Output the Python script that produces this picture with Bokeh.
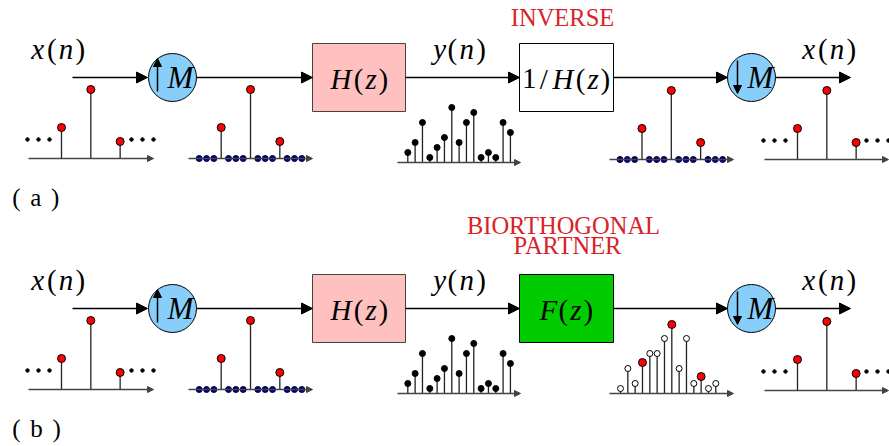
from bokeh.plotting import figure
from bokeh.models import Range1d, Arrow, NormalHead
from bokeh.core.properties import value
from bokeh.embed import file_html
from bokeh.resources import INLINE

# ---------------- data ----------------
x_seq = [31, 69, 17]                    # nonzero samples of x(n)
M_FACTOR = 4                            # up/down-sampling factor
UP_LEN = 15                             # samples shown after upsampling
y_seq = [10, 20, 40, 5, 15, 25, 55, 20, 40, 50, 5, 10, 5, 40, 30]   # y(n)
f_seq = [5, 25, 10, 31, 40, 40, 55, 69, 25, 55, 10, 17, 5, 10]     # F(z) output
f_kept = [3, 7, 11]                     # samples kept by the decimator
panel_labels = ["a", "b"]
row_titles = [["INVERSE"], ["BIORTHOGONAL", "PARTNER"]]
box1_label = "H(z)"
box2_labels = ["1/H(z)", "F(z)"]
box2_fill = ["white", "#00cc00"]
in_label, mid_label = "x(n)", "y(n)"

# ---------------- layout ----------------
W, H = 889, 446
ROW_Y = 77
ROW_DY = 231
D = 7.33
FONT = "Liberation Serif"
RED_TXT = "#d8232a"
TDY = -11   # text baseline correction

p = figure(width=W, height=H, x_range=Range1d(0, W), y_range=Range1d(H, 0),
           output_backend="svg", toolbar_location=None,
           x_axis_location=None, y_axis_location=None, min_border=0)
p.grid.visible = False
p.outline_line_color = None
p.background_fill_color = "white"

CM = {'x': .572, 'n': .6, 'y': .49, 'H': .831, 'z': .465, 'M': .97, 'F': .643,
      '(': .389, ')': .389, '1': .5, '/': .5, ' ': .333, 'a': .5, 'b': .556}


def glyph_text(x0, y, s, size, math=True, center=False, color="black"):
    total = sum(CM[c] for c in s) * size
    cx = x0 - total / 2 if center else x0
    for c in s:
        adv = CM[c] * size
        if c != ' ':
            italic = math and c.isalpha()
            p.text(x=[cx + adv / 2], y=[y + TDY], text=[c], text_align="center",
                   text_baseline="alphabetic", text_font=value(FONT),
                   text_font_size=f"{size}px", text_color=color,
                   text_font_style="italic" if italic else "normal")
        cx += adv


def arrow(x0, y0, x1, y1, size=11, color="black", lw=1.3):
    p.add_layout(Arrow(end=NormalHead(size=size, fill_color=color, line_color=color, line_width=1),
                       x_start=x0, y_start=y0, x_end=x1, y_end=y1,
                       line_color=color, line_width=lw))


def stems(xs, base, hs, fill, size):
    tops = [base - h for h in hs]
    p.segment(x0=xs, y0=[base] * len(xs), x1=xs, y1=tops, line_color="#222", line_width=1.3)
    p.scatter(x=xs, y=tops, size=size, fill_color=fill, line_color="black", line_width=1)


def seq_axis(x0, x1, base):
    arrow(x0, base, x1, base, size=6, color="#444", lw=1.6)


def upsampled():
    seq = [0] * UP_LEN
    for k, v in enumerate(x_seq):
        seq[M_FACTOR * k + M_FACTOR - 1] = v
    return seq


def sparse_plot(x0, x1, base, first_stem):
    seq_axis(x0, x1, base)
    xs = [first_stem + k * M_FACTOR * D for k in range(len(x_seq))]
    stems(xs, base, x_seq, "#ff0000", 8)
    dots = [x0 - 1 + i * 11 for i in range(3)] + [x1 - 22 + i * 11 for i in range(3)]
    p.scatter(x=dots, y=[base - 19] * 6, size=3.5, fill_color="black", line_color="black")


def up_plot(x0, x1, base, n0):
    seq_axis(x0, x1, base)
    seq = upsampled()
    nz = [i for i, v in enumerate(seq) if v]
    zs = [i for i, v in enumerate(seq) if not v]
    p.scatter(x=[n0 + i * D for i in zs], y=[base] * len(zs), size=6,
              fill_color="#00008b", line_color="#000040")
    stems([n0 + i * D for i in nz], base, [seq[i] for i in nz], "#ff0000", 8)


for r in range(2):
    yc = ROW_Y + r * ROW_DY
    off = r * ROW_DY
    # signal path
    arrow(72, yc, 147, yc)
    arrow(196, yc, 312, yc)
    arrow(405, yc, 519, yc)
    arrow(613, yc, 727, yc)
    arrow(775, yc, 850, yc)
    p.circle(x=[172, 751], y=[yc, yc], radius=24, fill_color="#87cefa",
             line_color="black", line_width=1)
    arrow(157, yc + 14, 157, yc - 19, size=8, lw=1.5)
    arrow(737, yc - 17, 737, yc + 16, size=8, lw=1.5)
    glyph_text(180, yc + 11, "M", 31, center=True)
    glyph_text(760, yc + 11, "M", 31, center=True)
    p.quad(left=[312], right=[405], top=[yc - 34], bottom=[yc + 34],
           fill_color="#ffc0c0", line_color="#444", line_width=1)
    p.quad(left=[519], right=[613], top=[yc - 34], bottom=[yc + 34],
           fill_color=box2_fill[r], line_color="black", line_width=1)
    glyph_text(358.5, yc + 12, box1_label, 29, center=True)
    glyph_text(566, yc + 12, box2_labels[r], 29, center=True)
    glyph_text(29, yc - 18, in_label, 29)
    glyph_text(432, yc - 18, mid_label, 29)
    glyph_text(800, yc - 18, in_label, 29)
    glyph_text(11, 208 + off, "( " + panel_labels[r] + " )", 25, math=False)
    # titles
    for j, t in enumerate(row_titles[r]):
        ty = [28][j] if r == 0 else [235.5, 256][j]
        tx = 562 if r == 0 else [563, 567][j]
        p.text(x=[tx], y=[ty + TDY], text=[t], text_align="center", text_baseline="alphabetic",
               text_font=value(FONT), text_font_size="24.5px", text_color=RED_TXT)
    # sequences
    sparse_plot(28, 153, 158 + off, 61)
    up_plot(188, 312, 158 + off, 198.7)
    seq_axis(397, 520, 162 + off)
    stems([407.3 + i * D for i in range(len(y_seq))], 162 + off, y_seq, "black", 6)
    if r == 0:
        up_plot(609, 733, 159, 619.5)
    else:
        seq_axis(609, 733, 393)
        fx = [620 + i * D for i in range(len(f_seq))]
        fills = ["#ff0000" if i in f_kept else "white" for i in range(len(f_seq))]
        tops = [393 - v for v in f_seq]
        p.segment(x0=fx, y0=[393] * len(fx), x1=fx, y1=tops, line_color="#222", line_width=1.3)
        p.scatter(x=fx, y=tops, size=[8 if i in f_kept else 6 for i in range(len(f_seq))],
                  fill_color=fills, line_color="black", line_width=1)
    sparse_plot(764, 888, 159 + off, 797)

open("out.html", "w").write(file_html(p, INLINE))
